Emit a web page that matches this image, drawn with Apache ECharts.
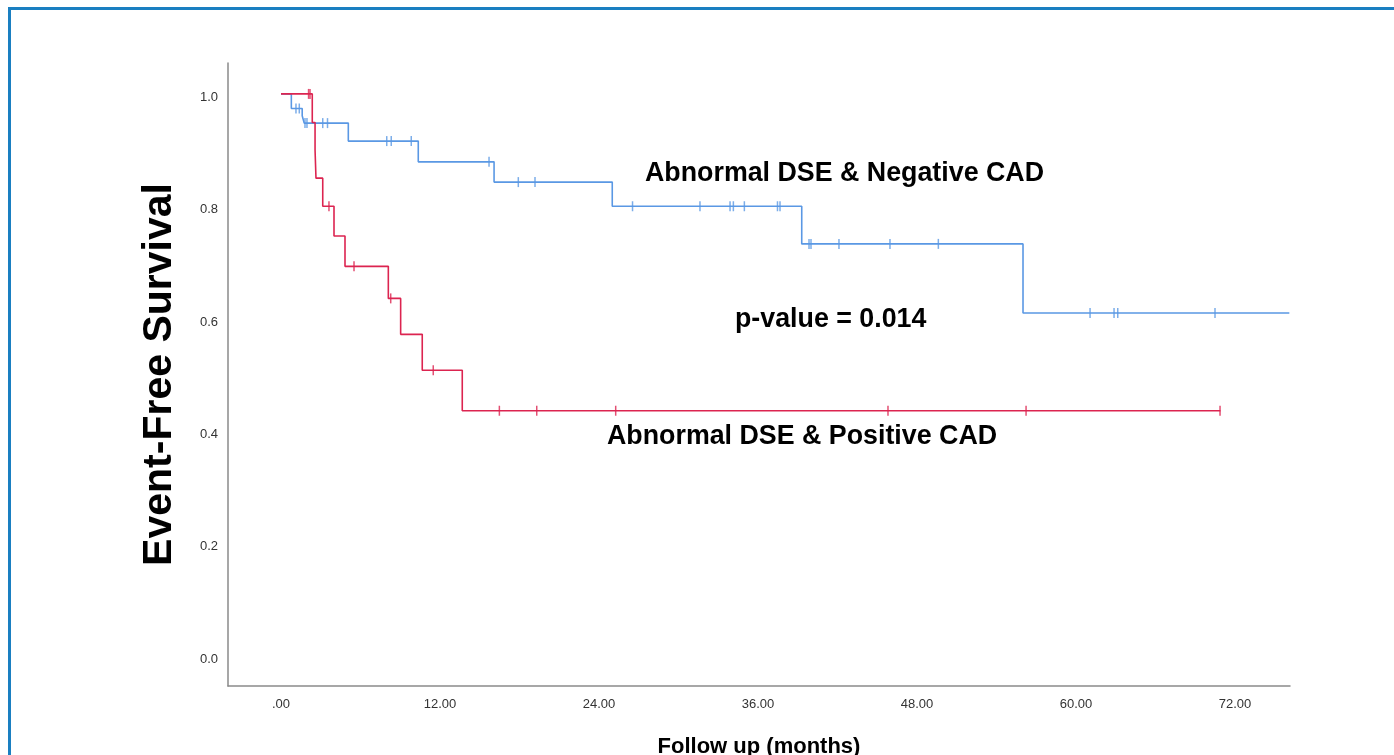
<!DOCTYPE html>
<html>
<head>
<meta charset="utf-8">
<script src="https://cdn.jsdelivr.net/npm/echarts@6/dist/echarts.min.js"></script>
<style>
  html, body { margin: 0; padding: 0; background: #fff; overflow: hidden; }
  #frame {
    position: absolute; left: 8px; top: 7px; width: 1500px; height: 1000px;
    border: 3px solid #1a7fc1; box-sizing: border-box;
  }
  #chart { position: absolute; left: 0; top: 0; width: 1394px; height: 755px; }
</style>
</head>
<body>
<div id="frame"></div>
<div id="chart"></div>
<script>
// Abnormal DSE & Negative CAD (blue)
const negTimes = [0, 0.78, 1.6, 1.75, 5.08, 10.36, 16.08, 25.0, 39.3, 56.0, 76.1];
const negSurv = [1.0, 0.974, 0.961, 0.948, 0.916, 0.879, 0.843, 0.8, 0.733, 0.61, 0.61];
const negCensored = [1.13, 1.38, 1.81, 1.96, 3.15, 3.51, 7.98, 8.32, 9.83, 15.7, 17.91, 19.17,
  26.53, 31.62, 33.89, 34.14, 34.97, 37.47, 37.66, 39.85, 40.0, 42.11, 45.96, 49.61,
  61.06, 62.87, 63.15, 70.49];

// Abnormal DSE & Positive CAD (red)
const posTimes = [0, 2.36, 2.57, 2.64, 3.15, 4.0, 4.83, 8.1, 9.03, 10.66, 13.68, 70.9];
const posSurv = [1.0, 0.949, 0.9, 0.85, 0.8, 0.747, 0.693, 0.636, 0.572, 0.508, 0.436, 0.436];
const posCensored = [2.08, 2.19, 3.62, 5.51, 8.28, 11.49, 16.48, 19.3, 25.26, 45.81, 56.23, 70.87];

const xTicks = [0, 12, 24, 36, 48, 60, 72];
const yTicks = [0, 0.2, 0.4, 0.6, 0.8, 1.0];

const BLUE = "#5a98e4";
const RED = "#dc2450";
const FONT = 'Arial, "Liberation Sans", sans-serif';

function survAt(times, surv, t) {
  let s = surv[0];
  for (let i = 0; i < times.length; i++) {
    if (times[i] <= t) s = surv[i];
  }
  return s;
}

function isTick(list, v) {
  return list.some((t) => Math.abs(t - v) < 1e-6);
}

const chart = echarts.init(document.getElementById("chart"));

const option = {
  animation: false,
  backgroundColor: "transparent",
  grid: { left: 228, top: 63, right: 104, bottom: 69, outerBoundsMode: "none", containLabel: false },
  xAxis: {
    type: "value",
    min: -4,
    max: 76.15,
    minInterval: 12,
    maxInterval: 12,
    name: "Follow up (months)",
    nameLocation: "middle",
    nameGap: 50,
    nameTextStyle: { fontFamily: FONT, fontSize: 22, fontWeight: "bold", color: "#000" },
    axisLine: { show: true, onZero: false, lineStyle: { color: "#8a8a8a", width: 1.5 } },
    axisTick: { show: false },
    splitLine: { show: false },
    axisLabel: {
      margin: 12,
      fontFamily: FONT,
      fontSize: 13,
      color: "#333",
      formatter: (v) => (isTick(xTicks, v) ? v.toFixed(2).replace(/^0\./, ".") : ""),
    },
  },
  yAxis: {
    type: "value",
    min: -0.054,
    max: 1.055,
    minInterval: 0.2,
    maxInterval: 0.2,
    name: "Event-Free Survival",
    nameLocation: "middle",
    nameGap: 48,
    nameTextStyle: { fontFamily: FONT, fontSize: 41, fontWeight: "bold", color: "#000" },
    axisLine: { show: true, onZero: false, lineStyle: { color: "#8a8a8a", width: 1.5 } },
    axisTick: { show: false },
    splitLine: { show: false },
    axisLabel: {
      margin: 10,
      fontFamily: FONT,
      fontSize: 13,
      color: "#333",
      formatter: (v) => (isTick(yTicks, v) ? "{lbl|" + v.toFixed(1) + "}" : ""),
      rich: {
        lbl: { fontFamily: FONT, fontSize: 13, color: "#333", padding: [7, 0, 0, 0] },
      },
    },
  },
  graphic: [
    {
      type: "text", left: 645, top: 160,
      style: { text: "Abnormal DSE & Negative CAD", font: "bold 26.8px " + FONT, fill: "#000" },
    },
    {
      type: "text", left: 735, top: 306,
      style: { text: "p-value = 0.014", font: "bold 26.8px " + FONT, fill: "#000" },
    },
    {
      type: "text", left: 607, top: 423,
      style: { text: "Abnormal DSE & Positive CAD", font: "bold 26.8px " + FONT, fill: "#000" },
    },
  ],
  series: [
    {
      name: "Abnormal DSE & Negative CAD",
      type: "line",
      step: "end",
      symbol: "none",
      lineStyle: { color: BLUE, width: 1.6 },
      data: negTimes.map((t, i) => [t, negSurv[i]]),
    },
    {
      type: "scatter",
      symbol: "rect",
      symbolSize: [1.5, 10],
      itemStyle: { color: BLUE },
      data: negCensored.map((t) => [t, survAt(negTimes, negSurv, t)]),
    },
    {
      name: "Abnormal DSE & Positive CAD",
      type: "line",
      step: "end",
      symbol: "none",
      lineStyle: { color: RED, width: 1.6 },
      data: posTimes.map((t, i) => [t, posSurv[i]]),
    },
    {
      type: "scatter",
      symbol: "rect",
      symbolSize: [1.5, 10],
      itemStyle: { color: RED },
      data: posCensored.map((t) => [t, survAt(posTimes, posSurv, t)]),
    },
  ],
};

chart.setOption(option);
</script>
</body>
</html>
